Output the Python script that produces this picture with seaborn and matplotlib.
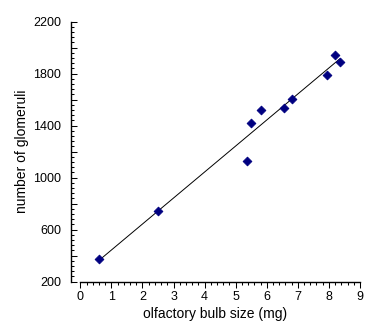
import numpy as np
import pandas as pd
import matplotlib
matplotlib.use("Agg")
import matplotlib.pyplot as plt
from matplotlib.ticker import FixedLocator, FuncFormatter
import seaborn as sns

# olfactory bulb mass (mg) vs. glomerulus count
bulb_size_mg = [0.6, 2.5, 5.35, 5.5, 5.8, 6.55, 6.8, 7.95, 8.2, 8.35]
glomeruli = [370, 745, 1125, 1420, 1520, 1535, 1605, 1790, 1945, 1890]

x_ticks = list(range(0, 10))
y_ticks = list(range(200, 2201, 200))
y_tick_labels = [200, 600, 1000, 1400, 1800, 2200]

df = pd.DataFrame({"size": bulb_size_mg, "glomeruli": glomeruli})

sns.set_theme(style="white")
plt.rcParams["font.family"] = ["Liberation Sans", "DejaVu Sans"]

fig = plt.figure(figsize=(3.82, 3.36), dpi=100)
ax = fig.add_axes([71 / 382, (336 - 281.5) / 336, 289 / 382, 260 / 336])

sns.regplot(
    data=df, x="size", y="glomeruli", ax=ax, ci=None, truncate=True,
    marker="D",
    scatter_kws=dict(s=20, color="#000080", edgecolors="#000080",
                     linewidths=0.6, zorder=3, alpha=1),
    line_kws=dict(color="black", linewidth=0.7, zorder=2),
)

ax.set_xlim(-0.3, 9)
ax.set_ylim(200, 2200)

for side in ("top", "right"):
    ax.spines[side].set_visible(False)
for side in ("left", "bottom"):
    ax.spines[side].set_color("black")
    ax.spines[side].set_linewidth(1.0)
ax.spines["bottom"].set_bounds(0, 9)

ax.xaxis.set_major_locator(FixedLocator(x_ticks))
ax.xaxis.set_minor_locator(FixedLocator(np.arange(0, 9.001, 0.2)))
ax.yaxis.set_major_locator(FixedLocator(y_ticks))
ax.yaxis.set_minor_locator(FixedLocator(np.arange(200, 2200.1, 40)))
ax.yaxis.set_major_formatter(
    FuncFormatter(lambda v, p: f"{int(v)}" if int(round(v)) in y_tick_labels else ""))

ax.tick_params(axis="x", which="both", direction="out", color="black",
               bottom=True, labelsize=9, pad=2.2, labelcolor="black")
ax.tick_params(axis="x", which="major", length=4.5, width=0.75)
ax.tick_params(axis="x", which="minor", length=2.5, width=0.75)
ax.tick_params(axis="y", which="both", direction="in", color="black",
               left=True, labelsize=9, pad=7, labelcolor="black")
ax.tick_params(axis="y", which="major", length=4.5, width=0.75)
ax.tick_params(axis="y", which="minor", length=2.5, width=0.75)

ax.set_xlabel("olfactory bulb size (mg)", fontsize=10, color="black", labelpad=3)
ax.set_ylabel("number of glomeruli", fontsize=10, color="black", labelpad=3)

fig.savefig("out.png", dpi=100, facecolor="white")
